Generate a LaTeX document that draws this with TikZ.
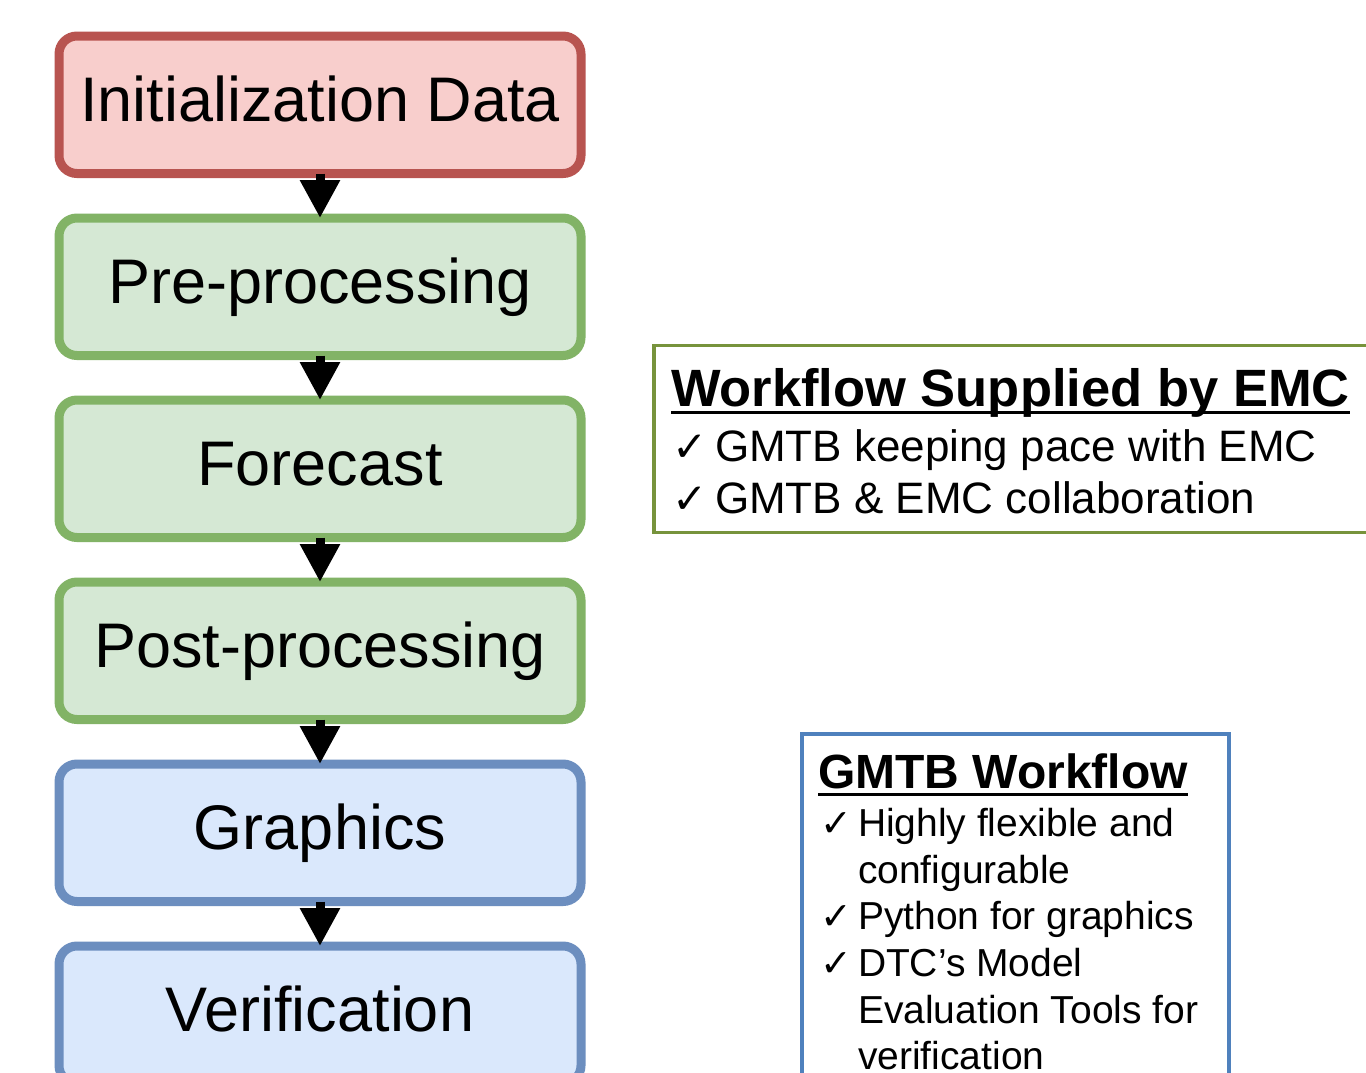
\documentclass[tikz,border=0pt]{standalone}
\usepackage{fontspec}
\setmainfont{Liberation Sans}
\newfontfamily\chkfont{DejaVu Sans}
\usetikzlibrary{arrows.meta}
\definecolor{redF}{HTML}{F8CECC}
\definecolor{redD}{HTML}{B85450}
\definecolor{greenF}{HTML}{D5E8D4}
\definecolor{greenD}{HTML}{82B366}
\definecolor{blueF}{HTML}{DAE8FC}
\definecolor{blueD}{HTML}{6C8EBF}
\definecolor{oliveD}{HTML}{77933C}
\definecolor{blueR}{HTML}{4F81BD}
\begin{document}
\begin{tikzpicture}[x=0.5pt,y=-0.5pt,
  flow/.style={rectangle, rounded corners=9pt, line width=4.5pt,
    minimum width=261pt, minimum height=68.75pt, outer sep=0pt, inner sep=0pt,
    font=\fontsize{31.5}{36}\selectfont, text height=22.6pt, text depth=6pt},
  redbox/.style={flow, fill=redF, draw=redD},
  greenbox/.style={flow, fill=greenF, draw=greenD},
  bluebox/.style={flow, fill=blueF, draw=blueD},
  arr/.style={line width=4.5pt, -{Triangle[width=19pt,length=19pt]}},
  infobox/.style={rectangle, outer sep=0pt, inner sep=0pt},
  txt/.style={anchor=base west, inner sep=0pt, outer sep=0pt},
  ttlA/.style={txt, font=\bfseries\fontsize{26.25}{30}\selectfont},
  itmA/.style={txt, font=\fontsize{22}{26}\selectfont},
  chkA/.style={txt, font=\chkfont\fontsize{21}{26}\selectfont},
  ttlB/.style={txt, font=\bfseries\fontsize{24}{28}\selectfont},
  itmB/.style={txt, font=\fontsize{19.5}{23}\selectfont},
  chkB/.style={txt, font=\chkfont\fontsize{19}{23}\selectfont},
  uline/.style={line width=1.5pt}
]
\useasboundingbox (0,0) rectangle (1366,1072);
\clip (0,0) rectangle (1366,1072);
\fill[white] (0,0) rectangle (1366,1072);

% flow boxes
\node[redbox]   (init) at (320,104.75)  {Initialization Data};
\node[greenbox] (pre)  at (320,286.75)  {Pre-processing};
\node[greenbox] (fc)   at (320,468.75)  {Forecast};
\node[greenbox] (post) at (320,650.75)  {Post-processing};
\node[bluebox]  (gr)   at (320,832.75)  {Graphics};
\node[bluebox]  (ver)  at (320,1014.75) {Verification};

\draw[arr] (init.south) -- (pre.north);
\draw[arr] (pre.south) -- (fc.north);
\draw[arr] (fc.south) -- (post.north);
\draw[arr] (post.south) -- (gr.north);
\draw[arr] (gr.south) -- (ver.north);

% EMC box
\node[infobox, draw=oliveD, line width=1.75pt, minimum width=363pt, minimum height=93.6pt] (emc) at (1017,439.1) {};
\node[ttlA] (t1) at (671,406) {Workflow Supplied by EMC};
\draw[uline] ([yshift=-3pt]t1.base west) -- ([yshift=-3pt]t1.base east);
\node[chkA] (c1a) at (672,461) {✓};
\node[itmA] (i1a) at (715,461) {GMTB keeping pace with EMC};
\node[chkA] (c1b) at (672,513) {✓};
\node[itmA] (i1b) at (715,513) {GMTB \& EMC collaboration};

% GMTB box
\node[infobox, draw=blueR, line width=2pt, minimum width=213.25pt, minimum height=178pt] (gmtb) at (1015.25,912) {};
\node[ttlB] (t2) at (818,788) {GMTB Workflow};
\draw[uline] ([yshift=-3pt]t2.base west) -- ([yshift=-3pt]t2.base east);
\node[chkB] (c2a) at (820,836) {✓};
\node[itmB] (i2a) at (858,836) {Highly flexible and};
\node[itmB] (i2b) at (858,883) {configurable};
\node[chkB] (c2b) at (820,929) {✓};
\node[itmB] (i2c) at (858,929) {Python for graphics};
\node[chkB] (c2c) at (820,976) {✓};
\node[itmB] (i2d) at (858,976) {DTC’s Model};
\node[itmB] (i2e) at (858,1023) {Evaluation Tools for};
\node[itmB] (i2f) at (858,1069) {verification};
\end{tikzpicture}
\end{document}
